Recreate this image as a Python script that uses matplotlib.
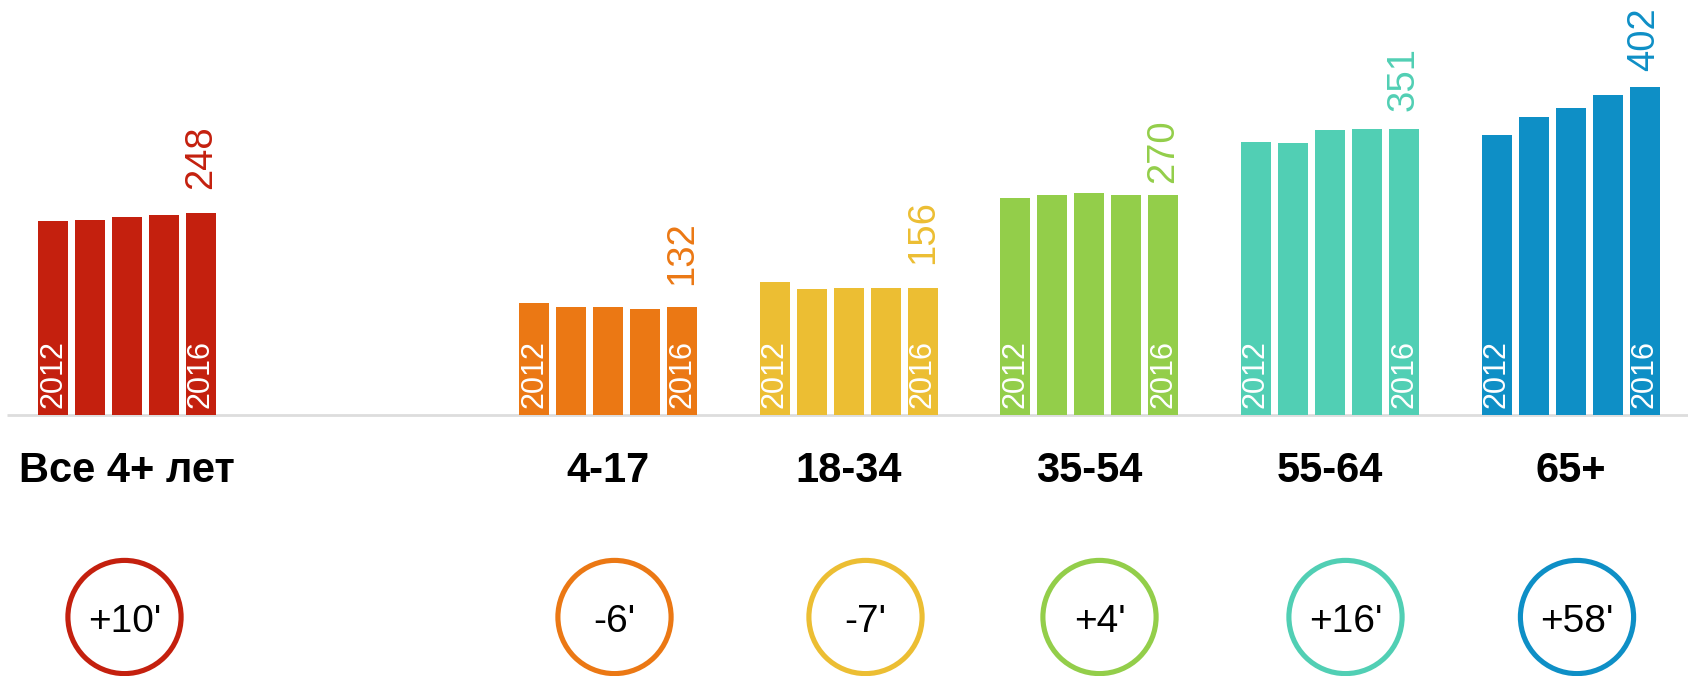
import matplotlib
matplotlib.use("Agg")
import matplotlib.pyplot as plt
from matplotlib.patches import Circle
import matplotlib.transforms as mtransforms

plt.rcParams['font.family'] = ['Liberation Sans', 'DejaVu Sans']

# ---------------- data ----------------
groups = ["Все 4+ лет", "4-17", "18-34", "35-54", "55-64", "65+"]
years = ["2012", "2013", "2014", "2015", "2016"]
v_all = [238, 239, 243, 246, 248]
v_4_17 = [138, 133, 133, 130, 132]
v_18_34 = [163, 155, 156, 156, 156]
v_35_54 = [266, 270, 272, 270, 270]
v_55_64 = [335, 334, 350, 351, 351]
v_65 = [344, 366, 377, 393, 402]
series = [v_all, v_4_17, v_18_34, v_35_54, v_55_64, v_65]
changes = ["+10'", "-6'", "-7'", "+4'", "+16'", "+58'"]

colors = ["#C4200E", "#EB7814", "#ECBE33", "#93CE4A", "#51CFB4", "#0E8FC6"]

# ---------------- layout ----------------
W, H, DPI = 1688, 676, 100
slot_pos = [0, 2, 3, 4, 5, 6]          # group slot index
slot_px = 240.6                         # px per slot
x0_px = 127                             # px of slot 0 centre
base_px = 415                           # baseline y from top
px_per_unit = 0.8148
pitch = 37 / slot_px
bar_w = 30 / slot_px
label_gap_px = [24, 22, 24, 12, 18, 16]
circle_x_px = [124.5, 614.5, 865.5, 1099.5, 1345.5, 1577]
circle_y_px = 617
circle_r_px = 56.6

fig = plt.figure(figsize=(W / DPI, H / DPI), dpi=DPI)
fig.patch.set_facecolor("white")

ax = fig.add_axes([0, (H - base_px) / H, 1, base_px / H])
ax.set_xlim(-x0_px / slot_px, (W - x0_px) / slot_px)
ax.set_ylim(0, base_px / px_per_unit)
ax.axis("off")

# baseline
ax.plot([(7 - x0_px) / slot_px, (W - x0_px) / slot_px], [0, 0],
        color="#dddddd", lw=2.0, solid_capstyle="butt", zorder=1,
        clip_on=False)

blend = mtransforms.blended_transform_factory(ax.transData, fig.transFigure)

for g, (name, vals, col) in enumerate(zip(groups, series, colors)):
    xs = [slot_pos[g] + (i - 2) * pitch for i in range(len(vals))]
    ax.bar(xs, vals, width=bar_w, color=col, zorder=2)
    # year labels inside first/last bars
    for i in (0, len(vals) - 1):
        ax.annotate(years[i], xy=(xs[i], 0), xytext=(0, 7 * 0.72),
                    textcoords="offset points", rotation=90,
                    ha="center", va="bottom", color="white",
                    fontsize=22, zorder=3)
    # value label above last bar
    ax.annotate(str(vals[-1]), xy=(xs[-1], vals[-1]),
                xytext=(0, label_gap_px[g] * 0.72),
                textcoords="offset points", rotation=90,
                ha="center", va="bottom", color=col, fontsize=27.5,
                zorder=3, annotation_clip=False)
    # category label
    fig.text(slot_pos[g], 1 - 482 / H, name, transform=blend,
             ha="center", va="baseline", fontsize=30, fontweight="bold",
             color="black")

# circles overlay in pixel space
ov = fig.add_axes([0, 0, 1, 1])
ov.set_xlim(0, W)
ov.set_ylim(H, 0)
ov.axis("off")
ov.patch.set_alpha(0)
for cx, txt, col in zip(circle_x_px, changes, colors):
    ov.add_patch(Circle((cx, circle_y_px), circle_r_px, facecolor="none",
                        edgecolor=col, lw=3.7))
    ov.text(cx, circle_y_px + 15, txt, ha="center", va="baseline",
            fontsize=28, color="black")

fig.savefig("out.png", dpi=DPI, facecolor="white")
